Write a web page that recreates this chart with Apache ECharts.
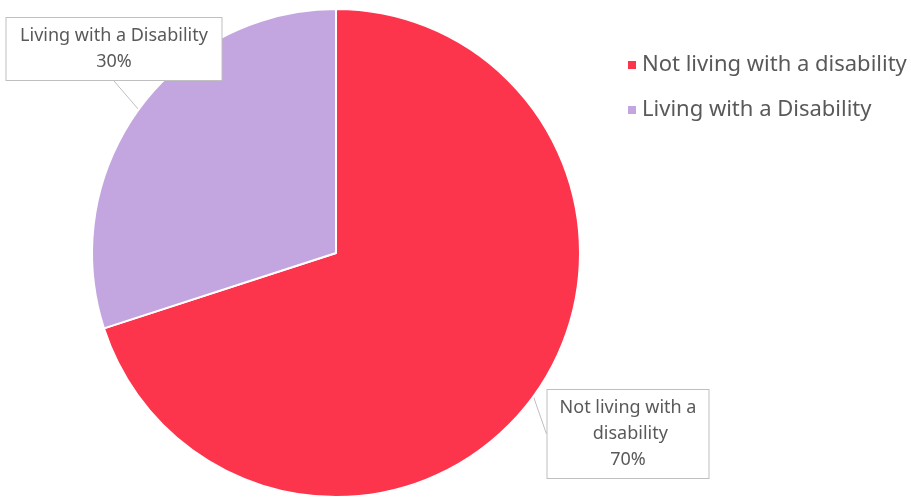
<!DOCTYPE html>
<html>
<head>
<meta charset="utf-8">
<script src="https://cdn.jsdelivr.net/npm/echarts@6/dist/echarts.min.js"></script>
<style>
  html, body { margin: 0; padding: 0; background: #fff; }
  #container { width: 911px; height: 497px; }
</style>
</head>
<body>
<div id="container"></div>
<script>
var categories = ['Not living with a disability', 'Living with a Disability'];
var values = [70, 30];
var colors = ['#FC354C', '#C3A6E0'];

// label box centres (callouts in the original)
var labelSpots = [[628, 434], [114, 49]];

var myChart = echarts.init(document.getElementById('container'));

var pieData = categories.map(function (name, i) {
    return { name: name, value: values[i], itemStyle: { color: colors[i] } };
});

var option = {
    animation: false,
    legend: {
        orient: 'vertical',
        left: 621,
        top: 49,
        itemWidth: 10,
        itemHeight: 10,
        itemGap: 23,
        icon: 'rect',
        textStyle: { color: '#595959', fontSize: 22, fontFamily: 'Noto Sans' },
        data: categories
    },
    series: [{
        type: 'pie',
        center: [336, 253],
        radius: 244,
        startAngle: 90,
        clockwise: true,
        itemStyle: { borderColor: '#fff', borderWidth: 2 },
        label: {
            show: true,
            formatter: '{b}\n{d}%',
            color: '#595959',
            fontSize: 18,
            lineHeight: 26,
            fontFamily: 'Noto Sans',
            backgroundColor: '#fff',
            borderColor: '#BFBFBF',
            borderWidth: 1,
            padding: [5, 10],
            align: 'center'
        },
        labelLine: {
            show: true,
            length: 8,
            length2: 0,
            lineStyle: { color: '#BFBFBF', width: 1 }
        },
        labelLayout: function (params) {
            var p = labelSpots[params.dataIndex];
            return { x: p[0], y: p[1], align: 'center', verticalAlign: 'middle' };
        },
        data: pieData
    }]
};
// fixed box widths so the text wraps like the original
option.series[0].data[0].label = { width: 141, overflow: 'break' };
option.series[0].data[1].label = { width: 195, overflow: 'none' };

myChart.setOption(option);
</script>
</body>
</html>
